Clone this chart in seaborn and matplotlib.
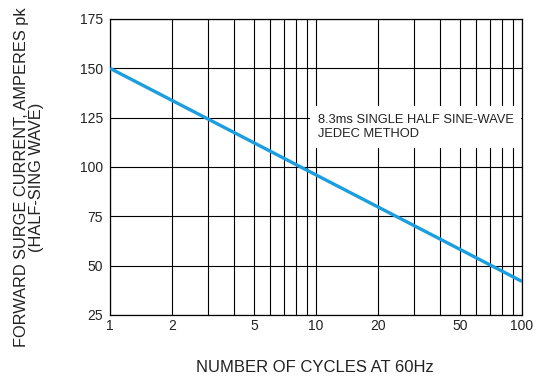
import numpy as np
import pandas as pd
import matplotlib
matplotlib.use('Agg')
import matplotlib.pyplot as plt
from matplotlib.ticker import FixedLocator, FixedFormatter, NullFormatter
import seaborn as sns

# data
cycles = [1, 100]
current = [150, 42]
x_ticks = [1, 2, 5, 10, 20, 50, 100]
x_labels = ['1', '2', '5', '10', '20', '50', '100']
x_grid = [1, 2, 3, 4, 5, 6, 7, 8, 9, 10, 20, 30, 40, 50, 60, 70, 80, 90, 100]
y_ticks = [25, 50, 75, 100, 125, 150, 175]

sns.set_style('white')
plt.rcParams['font.family'] = ['Liberation Sans', 'DejaVu Sans']

df = pd.DataFrame({'cycles': cycles, 'current': current})

fig = plt.figure(figsize=(5.46, 3.83), dpi=100)
ax = fig.add_axes([110 / 546, 1 - 315 / 383, 412 / 546, 296 / 383])

ax.set_xscale('log')
ax.set_xlim(1, 100)
ax.set_ylim(25, 175)

for gx in x_grid:
    ax.axvline(gx, color='black', lw=0.8, zorder=1)
for gy in y_ticks:
    ax.axhline(gy, color='black', lw=0.8, zorder=1)

sns.lineplot(data=df, x='cycles', y='current', ax=ax, color='#1a9ee0',
             lw=2.4, zorder=3, solid_capstyle='butt')
ax.set_xlabel('')
ax.set_ylabel('')

ax.xaxis.set_major_locator(FixedLocator(x_ticks))
ax.xaxis.set_major_formatter(FixedFormatter(x_labels))
ax.xaxis.set_minor_formatter(NullFormatter())
ax.set_yticks(y_ticks)
ax.tick_params(axis='both', which='both', length=0, labelsize=10, colors='#222222', pad=5)
ax.tick_params(axis='x', pad=3)
for s in ax.spines.values():
    s.set_color('black')
    s.set_linewidth(0.9)

ax.text(10.2, 120.3, '8.3ms SINGLE HALF SINE-WAVE\nJEDEC METHOD', fontsize=9.3,
        color='#222222', va='center', ha='left', linespacing=1.3, zorder=4,
        bbox=dict(facecolor='white', edgecolor='none', pad=5.5))

fig.text(315 / 546, 1 - 368 / 383, 'NUMBER OF CYCLES AT 60Hz', fontsize=12,
         color='#222222', ha='center', va='center')
fig.text(29 / 546, 1 - 177 / 383, 'FORWARD SURGE CURRENT, AMPERES pk\n(HALF-SING WAVE)',
         fontsize=11.8, color='#222222', ha='center', va='center',
         rotation=90, linespacing=1.0, multialignment='center')

fig.savefig('out.png', dpi=100)
